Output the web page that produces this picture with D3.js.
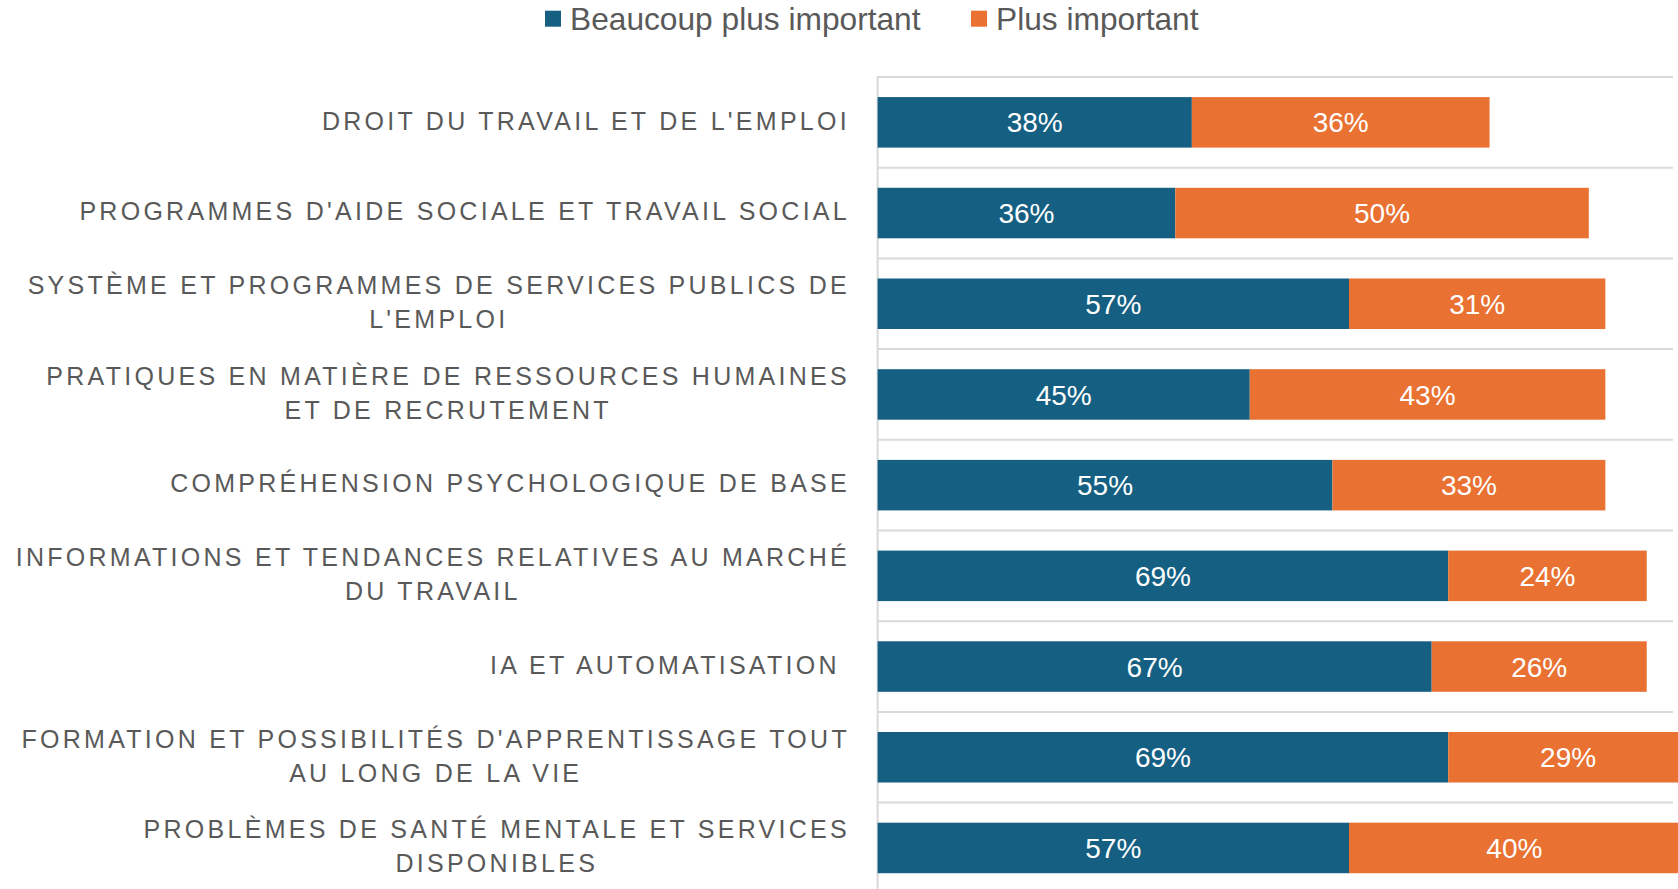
<!DOCTYPE html>
<html><head><meta charset="utf-8">
<script src="https://cdn.jsdelivr.net/npm/d3@7"></script>
<style>body{margin:0;background:#fff;} svg{display:block;}</style>
</head><body>
<svg id="chart" width="1678" height="889"></svg>
<script>
const categories = [
  "DROIT DU TRAVAIL ET DE L'EMPLOI",
  "PROGRAMMES D'AIDE SOCIALE ET TRAVAIL SOCIAL",
  "SYSTÈME ET PROGRAMMES DE SERVICES PUBLICS DE\nL'EMPLOI",
  "PRATIQUES EN MATIÈRE DE RESSOURCES HUMAINES\nET DE RECRUTEMENT",
  "COMPRÉHENSION PSYCHOLOGIQUE DE BASE",
  "INFORMATIONS ET TENDANCES RELATIVES AU MARCHÉ\nDU TRAVAIL",
  "IA ET AUTOMATISATION ",
  "FORMATION ET POSSIBILITÉS D'APPRENTISSAGE TOUT\nAU LONG DE LA VIE",
  "PROBLÈMES DE SANTÉ MENTALE ET SERVICES\nDISPONIBLES"
];
const seriesNames = ["Beaucoup plus important", "Plus important"];
const beaucoupPlus = [38, 36, 57, 45, 55, 69, 67, 69, 57];
const plusImportant = [36, 50, 31, 43, 33, 24, 26, 29, 40];
const colors = ["#156082", "#E97132"];

const W = 1678, H = 889;
const svg = d3.select("#chart");
const plotLeft = 877.6, plotTop = 77, step = 90.7;
const plotRight = 1673;
const x = d3.scaleLinear().domain([0, 100]).range([plotLeft, plotLeft + 827]);
const pInner = 0.443;
const y = d3.scaleBand().domain(categories)
  .range([plotTop, plotTop + step * categories.length])
  .paddingInner(pInner).paddingOuter(pInner / 2);

const rows = categories.map((c, i) => ({cat: c, [seriesNames[0]]: beaucoupPlus[i], [seriesNames[1]]: plusImportant[i]}));
const stacked = d3.stack().keys(seriesNames)(rows);

// gridlines (category separators)
const bounds = categories.map(c => y(c) - y.step() * pInner / 2);
bounds.push(plotTop + y.step() * categories.length);
svg.append("g").selectAll("line").data(bounds).join("line")
  .attr("x1", x(0)).attr("x2", plotRight)
  .attr("y1", d => d).attr("y2", d => d)
  .attr("stroke", "#d9d9d9").attr("stroke-width", 2);

// vertical axis line
svg.append("line").attr("x1", x(0)).attr("x2", x(0)).attr("y1", plotTop - 1).attr("y2", H)
  .attr("stroke", "#d9d9d9").attr("stroke-width", 2);

// bars
const g = svg.append("g");
stacked.forEach((s, si) => {
  g.append("g").attr("fill", colors[si]).selectAll("rect").data(s).join("rect")
    .attr("x", d => x(d[0]))
    .attr("width", d => x(d[1]) - x(d[0]))
    .attr("y", d => y(d.data.cat))
    .attr("height", y.bandwidth());
  g.append("g").selectAll("text").data(s).join("text")
    .attr("x", d => (x(d[0]) + x(d[1])) / 2)
    .attr("y", d => y(d.data.cat) + y.bandwidth() / 2)
    .attr("dy", "0.36em")
    .attr("text-anchor", "middle")
    .attr("fill", "#ffffff")
    .attr("font-family", "'Liberation Sans', Arial, sans-serif")
    .attr("font-size", 28)
    .text(d => (d[1] - d[0]) + "%");
});

// category labels
const labelFont = 25, ls = 3.27, lineH = 34;
const labelRight = 846.7 + ls;
const lg = svg.append("g");
categories.forEach(c => {
  const lines = c.split("\n");
  const cy = y(c) + y.bandwidth() / 2 - 1.5;
  const texts = lines.map((ln, i) => lg.append("text")
    .attr("y", cy + (i - (lines.length - 1) / 2) * lineH)
    .attr("dy", "0.35em")
    .attr("fill", "#595959")
    .attr("font-family", "'Liberation Sans', Arial, sans-serif")
    .attr("font-size", labelFont)
    .attr("letter-spacing", ls)
    .style("white-space", "pre")
    .text(ln));
  const widths = texts.map(t => t.node().getComputedTextLength());
  const maxW = d3.max(widths);
  const cx = labelRight - maxW / 2;
  texts.forEach(t => t.attr("x", cx).attr("text-anchor", "middle"));
});

// legend
const legendX = [545, 971];
const leg = svg.append("g");
seriesNames.forEach((n, i) => {
  leg.append("rect").attr("x", legendX[i]).attr("y", 10.7).attr("width", 16).attr("height", 16).attr("fill", colors[i]);
  leg.append("text").attr("x", legendX[i] + 25).attr("y", 29.5)
    .attr("fill", "#595959")
    .attr("font-family", "'Liberation Sans', Arial, sans-serif")
    .attr("font-size", 31.7)
    .text(n);
});
</script>
</body></html>
